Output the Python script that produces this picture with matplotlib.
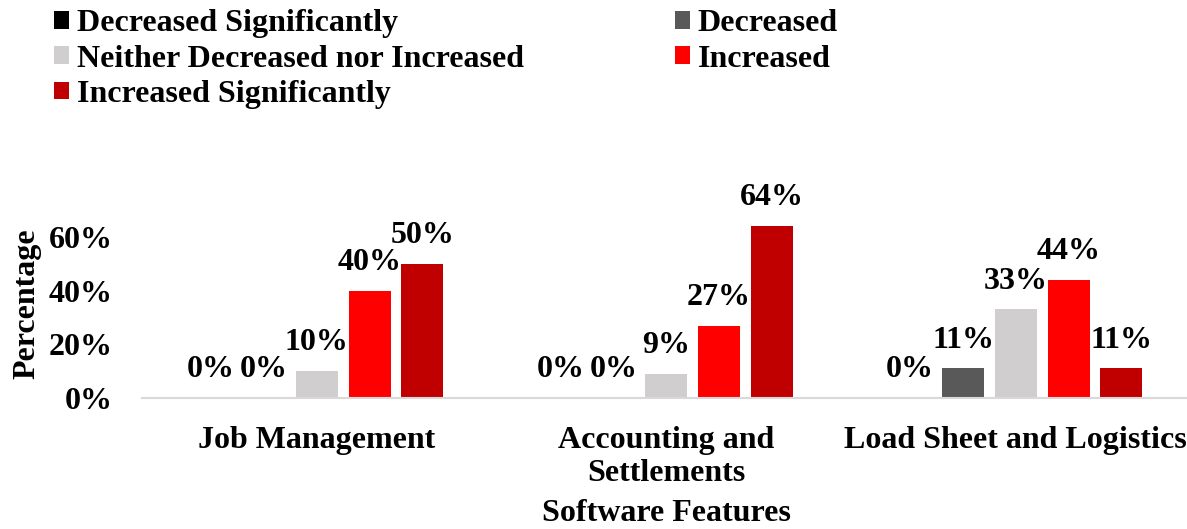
import numpy as np
import matplotlib.pyplot as plt

plt.rcParams['font.family'] = ['Liberation Serif', 'DejaVu Serif']
plt.rcParams['font.weight'] = 'bold'

categories = ["Job Management", "Accounting and\nSettlements", "Load Sheet and Logistics"]
series_names = ["Decreased Significantly", "Decreased", "Neither Decreased nor Increased",
                "Increased", "Increased Significantly"]
colors = ["#000000", "#595959", "#d0cece", "#ff0000", "#c00000"]

dec_sig = [0, 0, 0]
dec = [0, 0, 11]
neither = [10, 9, 33]
inc = [40, 27, 44]
inc_sig = [50, 64, 11]
values = [dec_sig, dec, neither, inc, inc_sig]

fig = plt.figure(figsize=(11.87, 5.29), dpi=100)
ax = fig.add_axes([142 / 1187, 1 - 398 / 529, 1 - 142 / 1187 + 0.003, 0.7 * 268.3 / 529])

x = np.arange(len(categories))
step = 0.151
width = 0.12
handles = []
for i, (name, vals, c) in enumerate(zip(series_names, values, colors)):
    pos = x + (i - 2) * step
    bars = ax.bar(pos, np.array(vals) / 100, width, color=c, label=name)
    handles.append(bars)
    for p, v in zip(pos, vals):
        ax.annotate(f"{v}%", (p, v / 100), xytext=(0, 10), textcoords="offset points",
                    ha="center", va="bottom", fontsize=23, fontweight="bold",
                    annotation_clip=False)

ax.set_xlim(-0.5, 2.5)
ax.set_ylim(0, 0.7)
ax.set_yticks([0, 0.2, 0.4, 0.6])
ax.set_yticklabels(["0%", "20%", "40%", "60%"], fontsize=23, fontweight="bold")
ax.set_xticks(x)
ax.set_xticklabels(categories, fontsize=23, fontweight="bold")
ax.tick_params(axis="x", length=0, pad=20)
ax.tick_params(axis="y", length=0, pad=21)
for s in ["top", "right", "left"]:
    ax.spines[s].set_visible(False)
ax.spines["bottom"].set_color("#d9d9d9")
ax.spines["bottom"].set_linewidth(1.5)

ax.set_ylabel("Percentage", fontsize=23, fontweight="bold")
ax.yaxis.set_label_coords(-0.096, 0.5)
ax.set_xlabel("Software Features", fontsize=23, fontweight="bold", labelpad=8)

order = [0, 2, 4, 1, 3]
fig.legend([handles[i] for i in order], [series_names[i] for i in order],
           loc="upper left", bbox_to_anchor=(0.0216, 1.037), ncol=2, frameon=False,
           prop={'weight': 'bold', 'size': 23},
           handlelength=0.47, handleheight=0.47, handletextpad=0.25,
           columnspacing=4.7, labelspacing=0.2)

fig.savefig("out.png", dpi=100)
